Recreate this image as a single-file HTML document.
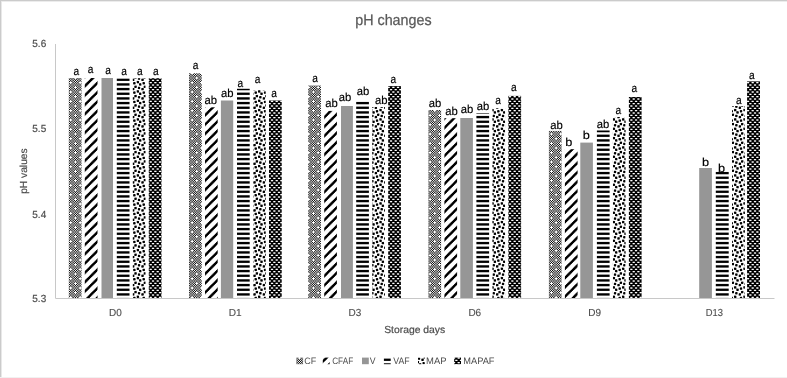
<!DOCTYPE html>
<html><head><meta charset="utf-8"><style>
html,body{margin:0;padding:0;background:#fff;}
body{width:787px;height:378px;overflow:hidden;}
svg{display:block;font-family:"Liberation Sans",sans-serif;will-change:transform;text-rendering:geometricPrecision;}
</style></head><body>
<svg width="787" height="378" viewBox="0 0 787 378">
<defs><pattern id="pCF" patternUnits="userSpaceOnUse" width="28" height="28"><g shape-rendering="crispEdges"><rect width="28" height="28" fill="#ffffff"/><path fill="#070707" d="M6 4h1v1h-1zM13 4h1v1h-1zM20 4h1v1h-1zM27 4h1v1h-1zM6 11h1v1h-1zM13 11h1v1h-1zM20 11h1v1h-1zM27 11h1v1h-1zM6 18h1v1h-1zM13 18h1v1h-1zM20 18h1v1h-1zM27 18h1v1h-1zM6 25h1v1h-1zM13 25h1v1h-1zM20 25h1v1h-1zM27 25h1v1h-1z"/><path fill="#0b0b0b" d="M19 10h1v1h-1zM5 24h1v1h-1z"/><path fill="#0d0d0d" d="M5 3h1v1h-1zM12 3h1v1h-1zM26 3h1v1h-1zM5 10h1v1h-1zM12 10h1v1h-1zM26 10h1v1h-1zM12 17h1v1h-1zM19 17h1v1h-1zM26 17h1v1h-1zM12 24h1v1h-1zM19 24h1v1h-1zM26 24h1v1h-1z"/><path fill="#0f0f0f" d="M19 5h1v1h-1zM5 19h1v1h-1z"/><path fill="#121212" d="M5 5h1v1h-1zM12 5h1v1h-1zM26 5h1v1h-1zM5 12h1v1h-1zM12 12h1v1h-1zM26 12h1v1h-1zM12 19h1v1h-1zM19 19h1v1h-1zM26 19h1v1h-1zM12 26h1v1h-1zM19 26h1v1h-1zM26 26h1v1h-1z"/><path fill="#171717" d="M4 4h1v1h-1zM11 4h1v1h-1zM25 4h1v1h-1zM4 11h1v1h-1zM11 11h1v1h-1zM18 11h1v1h-1zM25 11h1v1h-1zM11 18h1v1h-1zM18 18h1v1h-1zM25 18h1v1h-1zM4 25h1v1h-1zM11 25h1v1h-1zM18 25h1v1h-1zM25 25h1v1h-1z"/><path fill="#181818" d="M18 4h1v1h-1zM4 18h1v1h-1z"/><path fill="#282828" d="M21 3h1v1h-1zM7 17h1v1h-1z"/><path fill="#2c2c2c" d="M0 10h1v1h-1zM21 12h1v1h-1zM14 24h1v1h-1zM7 26h1v1h-1z"/><path fill="#2e2e2e" d="M7 3h1v1h-1zM14 3h1v1h-1zM7 10h1v1h-1zM14 10h1v1h-1zM21 10h1v1h-1zM0 17h1v1h-1zM21 17h1v1h-1zM0 24h1v1h-1zM7 24h1v1h-1zM21 24h1v1h-1z"/><path fill="#2f2f2f" d="M0 5h1v1h-1zM14 19h1v1h-1z"/><path fill="#303030" d="M27 2h1v1h-1zM13 16h1v1h-1z"/><path fill="#313131" d="M6 9h1v1h-1zM20 23h1v1h-1z"/><path fill="#323232" d="M7 5h1v1h-1zM14 5h1v1h-1zM21 5h1v1h-1zM7 12h1v1h-1zM14 12h1v1h-1zM0 19h1v1h-1zM7 19h1v1h-1zM21 19h1v1h-1zM0 26h1v1h-1zM21 26h1v1h-1z"/><path fill="#333333" d="M6 2h1v1h-1zM13 2h1v1h-1zM13 9h1v1h-1zM20 9h1v1h-1zM27 9h1v1h-1zM20 16h1v1h-1zM27 16h1v1h-1zM6 23h1v1h-1zM13 23h1v1h-1zM27 23h1v1h-1z"/><path fill="#373737" d="M20 2h1v1h-1zM6 16h1v1h-1z"/><path fill="#383838" d="M27 13h1v1h-1zM13 27h1v1h-1z"/><path fill="#393939" d="M11 2h1v1h-1zM25 16h1v1h-1z"/><path fill="#3a3a3a" d="M6 6h1v1h-1zM4 9h1v1h-1zM20 20h1v1h-1zM18 23h1v1h-1z"/><path fill="#3b3b3b" d="M20 6h1v1h-1zM27 6h1v1h-1zM6 13h1v1h-1zM13 13h1v1h-1zM6 20h1v1h-1zM13 20h1v1h-1zM20 27h1v1h-1zM27 27h1v1h-1z"/><path fill="#3c3c3c" d="M13 6h1v1h-1zM27 20h1v1h-1z"/><path fill="#3d3d3d" d="M4 2h1v1h-1zM25 2h1v1h-1zM17 3h1v1h-1zM11 9h1v1h-1zM18 9h1v1h-1zM11 16h1v1h-1zM18 16h1v1h-1zM3 17h1v1h-1zM4 23h1v1h-1zM25 23h1v1h-1z"/><path fill="#3e3e3e" d="M25 9h1v1h-1zM11 23h1v1h-1z"/><path fill="#404040" d="M17 12h1v1h-1zM11 13h1v1h-1zM20 13h1v1h-1zM3 26h1v1h-1zM6 27h1v1h-1zM25 27h1v1h-1z"/><path fill="#414141" d="M4 6h1v1h-1zM18 20h1v1h-1z"/><path fill="#444444" d="M11 6h1v1h-1zM18 6h1v1h-1zM4 13h1v1h-1zM25 13h1v1h-1zM4 20h1v1h-1zM25 20h1v1h-1zM11 27h1v1h-1zM18 27h1v1h-1z"/><path fill="#454545" d="M25 6h1v1h-1zM10 10h1v1h-1zM11 20h1v1h-1zM24 24h1v1h-1z"/><path fill="#464646" d="M3 3h1v1h-1zM24 3h1v1h-1zM3 10h1v1h-1zM17 10h1v1h-1zM24 10h1v1h-1zM10 17h1v1h-1zM17 17h1v1h-1zM3 24h1v1h-1zM10 24h1v1h-1zM17 24h1v1h-1z"/><path fill="#474747" d="M18 2h1v1h-1zM10 5h1v1h-1zM4 16h1v1h-1zM24 19h1v1h-1z"/><path fill="#494949" d="M3 5h1v1h-1zM17 5h1v1h-1zM24 5h1v1h-1zM3 12h1v1h-1zM24 12h1v1h-1zM3 19h1v1h-1zM10 19h1v1h-1zM17 19h1v1h-1zM10 26h1v1h-1zM17 26h1v1h-1z"/><path fill="#4f4f4f" d="M18 13h1v1h-1zM4 27h1v1h-1z"/><path fill="#535353" d="M19 1h1v1h-1zM5 15h1v1h-1z"/><path fill="#545454" d="M8 4h1v1h-1zM1 11h1v1h-1zM22 18h1v1h-1zM15 25h1v1h-1z"/><path fill="#555555" d="M1 4h1v1h-1zM15 4h1v1h-1zM22 4h1v1h-1zM8 11h1v1h-1zM15 11h1v1h-1zM22 11h1v1h-1zM1 18h1v1h-1zM8 18h1v1h-1zM15 18h1v1h-1zM1 25h1v1h-1zM8 25h1v1h-1zM22 25h1v1h-1z"/><path fill="#5c5c5c" d="M5 0h1v1h-1zM19 14h1v1h-1z"/><path fill="#5d5d5d" d="M0 1h1v1h-1zM15 9h1v1h-1zM14 15h1v1h-1zM1 23h1v1h-1z"/><path fill="#5f5f5f" d="M5 1h1v1h-1zM12 1h1v1h-1zM26 1h1v1h-1zM8 2h1v1h-1zM12 8h1v1h-1zM19 8h1v1h-1zM26 8h1v1h-1zM12 15h1v1h-1zM19 15h1v1h-1zM26 15h1v1h-1zM22 16h1v1h-1zM5 22h1v1h-1zM12 22h1v1h-1zM26 22h1v1h-1z"/><path fill="#606060" d="M15 6h1v1h-1zM1 20h1v1h-1z"/><path fill="#626262" d="M8 13h1v1h-1zM22 27h1v1h-1z"/><path fill="#646464" d="M14 0h1v1h-1zM15 2h1v1h-1zM22 2h1v1h-1zM1 9h1v1h-1zM8 9h1v1h-1zM0 14h1v1h-1zM1 16h1v1h-1zM8 16h1v1h-1zM15 23h1v1h-1zM22 23h1v1h-1z"/><path fill="#656565" d="M10 1h1v1h-1zM7 8h1v1h-1zM22 9h1v1h-1zM24 15h1v1h-1zM21 22h1v1h-1zM8 23h1v1h-1z"/><path fill="#676767" d="M1 6h1v1h-1zM8 6h1v1h-1zM15 13h1v1h-1zM22 13h1v1h-1zM15 20h1v1h-1zM22 20h1v1h-1zM1 27h1v1h-1zM8 27h1v1h-1z"/><path fill="#686868" d="M22 6h1v1h-1zM8 20h1v1h-1z"/><path fill="#696969" d="M7 1h1v1h-1zM14 1h1v1h-1zM21 1h1v1h-1zM0 8h1v1h-1zM3 8h1v1h-1zM21 8h1v1h-1zM0 15h1v1h-1zM7 15h1v1h-1zM21 15h1v1h-1zM7 22h1v1h-1zM14 22h1v1h-1zM17 22h1v1h-1z"/><path fill="#6a6a6a" d="M12 0h1v1h-1zM19 0h1v1h-1zM24 0h1v1h-1zM26 0h1v1h-1zM12 7h1v1h-1zM19 7h1v1h-1zM26 7h1v1h-1zM5 14h1v1h-1zM10 14h1v1h-1zM12 14h1v1h-1zM26 14h1v1h-1zM5 21h1v1h-1zM12 21h1v1h-1zM26 21h1v1h-1z"/><path fill="#6d6d6d" d="M7 7h1v1h-1zM21 21h1v1h-1z"/><path fill="#6f6f6f" d="M3 1h1v1h-1zM24 1h1v1h-1zM23 6h1v1h-1zM3 7h1v1h-1zM10 8h1v1h-1zM17 8h1v1h-1zM23 9h1v1h-1zM10 15h1v1h-1zM17 15h1v1h-1zM9 20h1v1h-1zM17 21h1v1h-1zM3 22h1v1h-1zM24 22h1v1h-1zM9 23h1v1h-1z"/><path fill="#707070" d="M0 0h1v1h-1zM21 0h1v1h-1zM17 1h1v1h-1zM0 7h1v1h-1zM21 7h1v1h-1zM7 14h1v1h-1zM14 14h1v1h-1zM3 15h1v1h-1zM7 21h1v1h-1zM14 21h1v1h-1z"/><path fill="#717171" d="M7 0h1v1h-1zM21 14h1v1h-1z"/><path fill="#747474" d="M2 2h1v1h-1zM2 4h1v1h-1zM9 11h1v1h-1zM2 13h1v1h-1zM16 16h1v1h-1zM16 18h1v1h-1zM23 25h1v1h-1zM16 27h1v1h-1z"/><path fill="#757575" d="M3 0h1v1h-1zM10 0h1v1h-1zM17 0h1v1h-1zM16 4h1v1h-1zM23 4h1v1h-1zM10 7h1v1h-1zM17 7h1v1h-1zM2 11h1v1h-1zM16 11h1v1h-1zM23 11h1v1h-1zM3 14h1v1h-1zM17 14h1v1h-1zM24 14h1v1h-1zM2 18h1v1h-1zM9 18h1v1h-1zM3 21h1v1h-1zM24 21h1v1h-1zM2 25h1v1h-1zM9 25h1v1h-1zM16 25h1v1h-1z"/><path fill="#767676" d="M9 4h1v1h-1zM23 18h1v1h-1z"/><path fill="#777777" d="M16 7h1v1h-1zM16 8h1v1h-1zM2 21h1v1h-1zM2 22h1v1h-1z"/><path fill="#797979" d="M16 2h1v1h-1zM23 2h1v1h-1zM2 3h1v1h-1zM2 6h1v1h-1zM9 6h1v1h-1zM2 9h1v1h-1zM9 9h1v1h-1zM2 12h1v1h-1zM16 13h1v1h-1zM23 13h1v1h-1zM2 16h1v1h-1zM9 16h1v1h-1zM16 17h1v1h-1zM16 20h1v1h-1zM23 20h1v1h-1zM16 23h1v1h-1zM23 23h1v1h-1zM16 26h1v1h-1zM2 27h1v1h-1zM9 27h1v1h-1z"/><path fill="#7a7a7a" d="M23 0h1v1h-1zM16 9h1v1h-1zM9 14h1v1h-1zM2 23h1v1h-1z"/><path fill="#7b7b7b" d="M16 6h1v1h-1zM22 7h1v1h-1zM2 20h1v1h-1zM8 21h1v1h-1z"/><path fill="#7c7c7c" d="M9 1h1v1h-1zM23 15h1v1h-1z"/><path fill="#7e7e7e" d="M1 2h1v1h-1zM22 8h1v1h-1zM15 16h1v1h-1zM8 22h1v1h-1z"/><path fill="#818181" d="M2 0h1v1h-1zM9 0h1v1h-1zM15 0h1v1h-1zM2 7h1v1h-1zM9 7h1v1h-1zM1 14h1v1h-1zM16 14h1v1h-1zM23 14h1v1h-1zM16 21h1v1h-1zM23 21h1v1h-1z"/><path fill="#828282" d="M16 0h1v1h-1zM16 1h1v1h-1zM23 1h1v1h-1zM2 8h1v1h-1zM9 8h1v1h-1zM2 14h1v1h-1zM2 15h1v1h-1zM9 15h1v1h-1zM16 22h1v1h-1zM23 22h1v1h-1z"/><path fill="#838383" d="M2 1h1v1h-1zM16 15h1v1h-1z"/><path fill="#858585" d="M1 1h1v1h-1zM1 13h1v1h-1zM15 15h1v1h-1zM15 27h1v1h-1z"/><path fill="#878787" d="M1 0h1v1h-1zM8 0h1v1h-1zM1 7h1v1h-1zM8 7h1v1h-1zM25 7h1v1h-1zM15 14h1v1h-1zM22 14h1v1h-1zM11 21h1v1h-1zM15 21h1v1h-1zM22 21h1v1h-1z"/><path fill="#888888" d="M22 0h1v1h-1zM9 5h1v1h-1zM9 10h1v1h-1zM8 14h1v1h-1zM23 19h1v1h-1zM23 24h1v1h-1z"/><path fill="#898989" d="M16 3h1v1h-1zM23 3h1v1h-1zM2 5h1v1h-1zM16 5h1v1h-1zM23 5h1v1h-1zM16 10h1v1h-1zM23 10h1v1h-1zM16 12h1v1h-1zM23 12h1v1h-1zM2 17h1v1h-1zM9 17h1v1h-1zM2 19h1v1h-1zM9 19h1v1h-1zM16 19h1v1h-1zM2 24h1v1h-1zM9 24h1v1h-1zM2 26h1v1h-1zM9 26h1v1h-1z"/><path fill="#8a8a8a" d="M15 1h1v1h-1zM22 1h1v1h-1zM1 8h1v1h-1zM8 8h1v1h-1zM2 10h1v1h-1zM1 15h1v1h-1zM8 15h1v1h-1zM15 22h1v1h-1zM22 22h1v1h-1zM16 24h1v1h-1z"/><path fill="#8b8b8b" d="M8 1h1v1h-1zM22 15h1v1h-1z"/><path fill="#8d8d8d" d="M13 7h1v1h-1zM27 21h1v1h-1z"/><path fill="#8f8f8f" d="M4 0h1v1h-1zM25 8h1v1h-1zM18 14h1v1h-1zM11 22h1v1h-1z"/><path fill="#919191" d="M11 0h1v1h-1zM18 0h1v1h-1zM11 7h1v1h-1zM18 7h1v1h-1zM4 14h1v1h-1zM25 14h1v1h-1zM4 21h1v1h-1zM25 21h1v1h-1z"/><path fill="#929292" d="M25 0h1v1h-1zM11 14h1v1h-1z"/><path fill="#939393" d="M6 0h1v1h-1zM8 12h1v1h-1zM20 14h1v1h-1zM22 26h1v1h-1z"/><path fill="#949494" d="M20 0h1v1h-1zM27 0h1v1h-1zM20 7h1v1h-1zM27 7h1v1h-1zM6 14h1v1h-1zM13 14h1v1h-1zM6 21h1v1h-1zM13 21h1v1h-1z"/><path fill="#959595" d="M13 0h1v1h-1zM8 3h1v1h-1zM24 6h1v1h-1zM27 14h1v1h-1zM22 17h1v1h-1zM10 20h1v1h-1z"/><path fill="#979797" d="M13 8h1v1h-1zM27 22h1v1h-1z"/><path fill="#989898" d="M18 1h1v1h-1zM4 15h1v1h-1z"/><path fill="#999999" d="M24 9h1v1h-1zM10 23h1v1h-1z"/><path fill="#9a9a9a" d="M4 1h1v1h-1zM25 1h1v1h-1zM9 2h1v1h-1zM11 8h1v1h-1zM18 8h1v1h-1zM11 15h1v1h-1zM18 15h1v1h-1zM23 16h1v1h-1zM4 22h1v1h-1zM25 22h1v1h-1z"/><path fill="#9b9b9b" d="M11 1h1v1h-1zM25 15h1v1h-1z"/><path fill="#9d9d9d" d="M20 1h1v1h-1zM6 15h1v1h-1z"/><path fill="#9e9e9e" d="M6 1h1v1h-1zM13 1h1v1h-1zM20 8h1v1h-1zM27 8h1v1h-1zM20 15h1v1h-1zM27 15h1v1h-1zM6 22h1v1h-1zM13 22h1v1h-1z"/><path fill="#9f9f9f" d="M27 1h1v1h-1zM6 7h1v1h-1zM13 15h1v1h-1zM20 21h1v1h-1z"/><path fill="#a0a0a0" d="M9 13h1v1h-1zM23 27h1v1h-1z"/><path fill="#a1a1a1" d="M17 13h1v1h-1zM3 27h1v1h-1z"/><path fill="#a2a2a2" d="M14 6h1v1h-1zM0 20h1v1h-1z"/><path fill="#a3a3a3" d="M10 6h1v1h-1zM17 6h1v1h-1zM3 13h1v1h-1zM24 13h1v1h-1zM3 20h1v1h-1zM24 20h1v1h-1zM10 27h1v1h-1zM17 27h1v1h-1z"/><path fill="#a4a4a4" d="M1 5h1v1h-1zM3 6h1v1h-1zM15 19h1v1h-1zM17 20h1v1h-1z"/><path fill="#a5a5a5" d="M17 2h1v1h-1zM8 5h1v1h-1zM15 5h1v1h-1zM22 5h1v1h-1zM15 12h1v1h-1zM22 12h1v1h-1zM3 16h1v1h-1zM1 19h1v1h-1zM8 19h1v1h-1zM22 19h1v1h-1zM1 26h1v1h-1zM8 26h1v1h-1z"/><path fill="#a6a6a6" d="M1 10h1v1h-1zM15 24h1v1h-1z"/><path fill="#a7a7a7" d="M15 3h1v1h-1zM22 3h1v1h-1zM8 10h1v1h-1zM15 10h1v1h-1zM22 10h1v1h-1zM1 17h1v1h-1zM8 17h1v1h-1zM1 24h1v1h-1zM8 24h1v1h-1zM22 24h1v1h-1z"/><path fill="#a8a8a8" d="M3 2h1v1h-1zM24 2h1v1h-1zM3 9h1v1h-1zM10 9h1v1h-1zM17 9h1v1h-1zM10 16h1v1h-1zM17 16h1v1h-1zM3 23h1v1h-1zM17 23h1v1h-1zM24 23h1v1h-1z"/><path fill="#a9a9a9" d="M14 9h1v1h-1zM0 23h1v1h-1z"/><path fill="#aaaaaa" d="M4 7h1v1h-1zM6 8h1v1h-1zM18 21h1v1h-1zM20 22h1v1h-1z"/><path fill="#b1b1b1" d="M21 13h1v1h-1zM7 27h1v1h-1z"/><path fill="#b2b2b2" d="M0 6h1v1h-1zM21 6h1v1h-1zM7 13h1v1h-1zM14 13h1v1h-1zM7 20h1v1h-1zM14 20h1v1h-1zM0 27h1v1h-1zM21 27h1v1h-1z"/><path fill="#b3b3b3" d="M7 6h1v1h-1zM21 20h1v1h-1z"/><path fill="#b4b4b4" d="M5 6h1v1h-1zM4 8h1v1h-1zM19 20h1v1h-1zM18 22h1v1h-1z"/><path fill="#b7b7b7" d="M21 2h1v1h-1zM7 16h1v1h-1z"/><path fill="#b9b9b9" d="M7 2h1v1h-1zM14 2h1v1h-1zM0 9h1v1h-1zM7 9h1v1h-1zM21 9h1v1h-1zM0 16h1v1h-1zM21 16h1v1h-1zM7 23h1v1h-1zM14 23h1v1h-1zM21 23h1v1h-1z"/><path fill="#bdbdbd" d="M10 11h1v1h-1zM24 25h1v1h-1z"/><path fill="#bebebe" d="M3 4h1v1h-1zM17 4h1v1h-1zM24 4h1v1h-1zM5 9h1v1h-1zM3 11h1v1h-1zM17 11h1v1h-1zM24 11h1v1h-1zM3 18h1v1h-1zM10 18h1v1h-1zM17 18h1v1h-1zM19 23h1v1h-1zM3 25h1v1h-1zM10 25h1v1h-1zM17 25h1v1h-1z"/><path fill="#c0c0c0" d="M10 4h1v1h-1zM24 18h1v1h-1z"/><path fill="#c7c7c7" d="M12 6h1v1h-1zM19 6h1v1h-1zM26 6h1v1h-1zM5 13h1v1h-1zM12 13h1v1h-1zM26 13h1v1h-1zM5 20h1v1h-1zM12 20h1v1h-1zM26 20h1v1h-1zM12 27h1v1h-1zM19 27h1v1h-1zM26 27h1v1h-1z"/><path fill="#c9c9c9" d="M15 7h1v1h-1zM1 21h1v1h-1z"/><path fill="#cbcbcb" d="M11 12h1v1h-1zM25 26h1v1h-1z"/><path fill="#cfcfcf" d="M11 3h1v1h-1zM25 17h1v1h-1z"/><path fill="#d0d0d0" d="M5 2h1v1h-1zM12 2h1v1h-1zM26 2h1v1h-1zM15 8h1v1h-1zM12 9h1v1h-1zM19 9h1v1h-1zM26 9h1v1h-1zM12 16h1v1h-1zM19 16h1v1h-1zM26 16h1v1h-1zM1 22h1v1h-1zM5 23h1v1h-1zM12 23h1v1h-1zM26 23h1v1h-1z"/><path fill="#d7d7d7" d="M23 7h1v1h-1zM9 21h1v1h-1z"/><path fill="#d8d8d8" d="M0 11h1v1h-1zM14 25h1v1h-1z"/><path fill="#d9d9d9" d="M7 4h1v1h-1zM14 4h1v1h-1zM21 4h1v1h-1zM7 11h1v1h-1zM14 11h1v1h-1zM21 11h1v1h-1zM0 18h1v1h-1zM7 18h1v1h-1zM21 18h1v1h-1zM0 25h1v1h-1zM7 25h1v1h-1zM21 25h1v1h-1z"/><path fill="#dadada" d="M10 2h1v1h-1zM4 5h1v1h-1zM11 5h1v1h-1zM18 5h1v1h-1zM25 5h1v1h-1zM4 12h1v1h-1zM25 12h1v1h-1zM24 16h1v1h-1zM4 19h1v1h-1zM11 19h1v1h-1zM18 19h1v1h-1zM25 19h1v1h-1zM11 26h1v1h-1zM18 26h1v1h-1z"/><path fill="#dbdbdb" d="M0 4h1v1h-1zM14 18h1v1h-1z"/><path fill="#dddddd" d="M23 8h1v1h-1zM10 13h1v1h-1zM9 22h1v1h-1zM24 27h1v1h-1z"/><path fill="#dedede" d="M4 3h1v1h-1zM25 3h1v1h-1zM4 10h1v1h-1zM18 10h1v1h-1zM25 10h1v1h-1zM27 12h1v1h-1zM11 17h1v1h-1zM18 17h1v1h-1zM4 24h1v1h-1zM11 24h1v1h-1zM18 24h1v1h-1zM13 26h1v1h-1z"/><path fill="#dfdfdf" d="M11 10h1v1h-1zM25 24h1v1h-1z"/><path fill="#e3e3e3" d="M27 3h1v1h-1zM13 17h1v1h-1z"/><path fill="#e8e8e8" d="M6 5h1v1h-1zM13 5h1v1h-1zM20 5h1v1h-1zM27 5h1v1h-1zM6 12h1v1h-1zM13 12h1v1h-1zM6 19h1v1h-1zM13 19h1v1h-1zM20 19h1v1h-1zM27 19h1v1h-1zM20 26h1v1h-1zM27 26h1v1h-1z"/><path fill="#ededed" d="M6 3h1v1h-1zM13 3h1v1h-1zM6 10h1v1h-1zM13 10h1v1h-1zM20 10h1v1h-1zM27 10h1v1h-1zM20 17h1v1h-1zM27 17h1v1h-1zM6 24h1v1h-1zM13 24h1v1h-1zM20 24h1v1h-1zM27 24h1v1h-1z"/><path fill="#f1f1f1" d="M0 2h1v1h-1zM14 16h1v1h-1z"/><path fill="#f3f3f3" d="M0 13h1v1h-1zM14 27h1v1h-1z"/><path fill="#f5f5f5" d="M24 7h1v1h-1zM10 21h1v1h-1z"/><path fill="#f7f7f7" d="M24 8h1v1h-1zM10 22h1v1h-1z"/><path fill="#f8f8f8" d="M20 12h1v1h-1zM6 26h1v1h-1z"/><path fill="#fcfcfc" d="M19 11h1v1h-1zM5 25h1v1h-1z"/><path fill="#fdfdfd" d="M5 4h1v1h-1zM12 4h1v1h-1zM26 4h1v1h-1zM5 11h1v1h-1zM12 11h1v1h-1zM26 11h1v1h-1zM12 18h1v1h-1zM19 18h1v1h-1zM26 18h1v1h-1zM12 25h1v1h-1zM19 25h1v1h-1zM26 25h1v1h-1z"/><path fill="#fefefe" d="M20 3h1v1h-1zM6 17h1v1h-1z"/></g></pattern><pattern id="pCFAF" patternUnits="userSpaceOnUse" width="28" height="28"><g shape-rendering="crispEdges"><rect width="28" height="28" fill="#ffffff"/><path fill="#000000" d="M2 0h1v1h-1zM11 0h2v1h-2zM20 0h2v1h-2zM1 1h1v1h-1zM10 1h1v1h-1zM19 1h2v1h-2zM0 2h1v1h-1zM9 2h1v1h-1zM18 2h2v1h-2zM27 2h1v1h-1zM8 3h2v1h-2zM17 3h2v1h-2zM26 3h2v1h-2zM7 4h2v1h-2zM16 4h2v1h-2zM25 4h3v1h-3zM6 5h2v1h-2zM15 5h2v1h-2zM25 5h2v1h-2zM5 6h2v1h-2zM15 6h1v1h-1zM24 6h1v1h-1zM4 7h2v1h-2zM13 7h2v1h-2zM23 7h1v1h-1zM3 8h1v1h-1zM12 8h2v1h-2zM22 8h1v1h-1zM2 9h1v1h-1zM11 9h2v1h-2zM20 9h2v1h-2zM1 10h2v1h-2zM10 10h2v1h-2zM19 10h2v1h-2zM0 11h2v1h-2zM9 11h2v1h-2zM18 11h3v1h-3zM0 12h1v1h-1zM8 12h2v1h-2zM18 12h2v1h-2zM27 12h1v1h-1zM8 13h1v1h-1zM17 13h1v1h-1zM26 13h2v1h-2zM6 14h2v1h-2zM16 14h1v1h-1zM25 14h2v1h-2zM5 15h2v1h-2zM15 15h1v1h-1zM24 15h1v1h-1zM4 16h2v1h-2zM13 16h2v1h-2zM23 16h1v1h-1zM3 17h2v1h-2zM12 17h2v1h-2zM22 17h2v1h-2zM2 18h2v1h-2zM11 18h3v1h-3zM21 18h2v1h-2zM1 19h2v1h-2zM11 19h2v1h-2zM20 19h2v1h-2zM1 20h1v1h-1zM10 20h1v1h-1zM19 20h2v1h-2zM0 21h1v1h-1zM9 21h1v1h-1zM18 21h2v1h-2zM27 21h1v1h-1zM8 22h1v1h-1zM17 22h1v1h-1zM26 22h2v1h-2zM6 23h2v1h-2zM16 23h1v1h-1zM25 23h2v1h-2zM5 24h2v1h-2zM15 24h2v1h-2zM24 24h2v1h-2zM4 25h3v1h-3zM14 25h2v1h-2zM23 25h2v1h-2zM4 26h2v1h-2zM13 26h2v1h-2zM22 26h2v1h-2zM3 27h1v1h-1zM12 27h2v1h-2zM22 27h1v1h-1z"/><path fill="#010101" d="M11 1h1v1h-1zM0 3h1v1h-1zM4 8h1v1h-1zM21 10h1v1h-1zM25 15h1v1h-1zM14 17h1v1h-1zM18 22h1v1h-1zM7 24h1v1h-1z"/><path fill="#020202" d="M24 5h1v1h-1zM17 12h1v1h-1zM10 19h1v1h-1zM3 26h1v1h-1z"/><path fill="#030303" d="M14 6h1v1h-1zM7 13h1v1h-1zM0 20h1v1h-1zM21 27h1v1h-1z"/><path fill="#050505" d="M10 2h1v1h-1zM3 9h1v1h-1zM24 16h1v1h-1zM17 23h1v1h-1z"/><path fill="#080808" d="M25 6h1v1h-1zM18 13h1v1h-1zM11 20h1v1h-1zM4 27h1v1h-1z"/><path fill="#0d0d0d" d="M0 1h1v1h-1zM21 8h1v1h-1zM14 15h1v1h-1zM7 22h1v1h-1z"/><path fill="#121212" d="M6 4h1v1h-1zM23 6h1v1h-1zM27 11h1v1h-1zM16 13h1v1h-1zM20 18h1v1h-1zM9 20h1v1h-1zM13 25h1v1h-1zM2 27h1v1h-1z"/><path fill="#131313" d="M1 2h1v1h-1zM22 9h1v1h-1zM15 16h1v1h-1zM8 23h1v1h-1z"/><path fill="#171717" d="M1 0h1v1h-1zM5 5h1v1h-1zM22 7h1v1h-1zM26 12h1v1h-1zM15 14h1v1h-1zM19 19h1v1h-1zM8 21h1v1h-1zM12 26h1v1h-1z"/><path fill="#191919" d="M3 0h1v1h-1zM24 7h1v1h-1zM17 14h1v1h-1zM10 21h1v1h-1z"/><path fill="#1d1d1d" d="M19 3h1v1h-1zM12 10h1v1h-1zM5 17h1v1h-1zM26 24h1v1h-1z"/><path fill="#1e1e1e" d="M2 1h1v1h-1zM23 8h1v1h-1zM16 15h1v1h-1zM9 22h1v1h-1z"/><path fill="#212121" d="M18 4h1v1h-1zM11 11h1v1h-1zM4 18h1v1h-1zM25 25h1v1h-1z"/><path fill="#222222" d="M7 3h1v1h-1zM0 10h1v1h-1zM21 17h1v1h-1zM14 24h1v1h-1z"/><path fill="#2b2b2b" d="M4 6h1v1h-1zM25 13h1v1h-1zM18 20h1v1h-1zM11 27h1v1h-1z"/><path fill="#2d2d2d" d="M20 2h1v1h-1zM13 9h1v1h-1zM6 16h1v1h-1zM27 23h1v1h-1z"/><path fill="#363636" d="M17 5h1v1h-1zM10 12h1v1h-1zM3 19h1v1h-1zM24 26h1v1h-1z"/><path fill="#373737" d="M8 2h1v1h-1zM1 9h1v1h-1zM22 16h1v1h-1zM15 23h1v1h-1z"/><path fill="#3e3e3e" d="M10 0h1v1h-1zM3 7h1v1h-1zM24 14h1v1h-1zM17 21h1v1h-1z"/><path fill="#424242" d="M21 1h1v1h-1zM14 8h1v1h-1zM7 15h1v1h-1zM0 22h1v1h-1z"/><path fill="#434343" d="M9 1h1v1h-1zM2 8h1v1h-1zM23 15h1v1h-1zM16 22h1v1h-1z"/><path fill="#494949" d="M16 6h1v1h-1zM9 13h1v1h-1zM2 20h1v1h-1zM23 27h1v1h-1z"/><path fill="#4e4e4e" d="M22 0h1v1h-1zM14 5h1v1h-1zM15 7h1v1h-1zM7 12h1v1h-1zM8 14h1v1h-1zM0 19h1v1h-1zM1 21h1v1h-1zM21 26h1v1h-1z"/><path fill="#525252" d="M13 6h1v1h-1zM6 13h1v1h-1zM27 20h1v1h-1zM20 27h1v1h-1z"/><path fill="#5c5c5c" d="M11 2h1v1h-1zM4 9h1v1h-1zM25 16h1v1h-1zM18 23h1v1h-1z"/><path fill="#5e5e5e" d="M15 4h1v1h-1zM8 11h1v1h-1zM1 18h1v1h-1zM22 25h1v1h-1z"/><path fill="#606060" d="M10 3h1v1h-1zM3 10h1v1h-1zM24 17h1v1h-1zM17 24h1v1h-1z"/><path fill="#676767" d="M19 0h1v1h-1zM12 7h1v1h-1zM5 14h1v1h-1zM26 21h1v1h-1z"/><path fill="#6b6b6b" d="M12 1h1v1h-1zM5 8h1v1h-1zM26 15h1v1h-1zM19 22h1v1h-1z"/><path fill="#747474" d="M9 4h1v1h-1zM2 11h1v1h-1zM23 18h1v1h-1zM16 25h1v1h-1z"/><path fill="#757575" d="M16 3h1v1h-1zM9 10h1v1h-1zM2 17h1v1h-1zM23 24h1v1h-1z"/><path fill="#7c7c7c" d="M18 1h1v1h-1zM11 8h1v1h-1zM4 15h1v1h-1zM25 22h1v1h-1z"/><path fill="#818181" d="M17 2h1v1h-1zM10 9h1v1h-1zM3 16h1v1h-1zM24 23h1v1h-1z"/><path fill="#828282" d="M13 0h1v1h-1zM6 7h1v1h-1zM27 14h1v1h-1zM20 21h1v1h-1z"/><path fill="#898989" d="M8 5h1v1h-1zM1 12h1v1h-1zM22 19h1v1h-1zM15 26h1v1h-1z"/><path fill="#8f8f8f" d="M7 6h1v1h-1zM0 13h1v1h-1zM21 20h1v1h-1zM14 27h1v1h-1z"/><path fill="#939393" d="M22 6h1v1h-1zM15 13h1v1h-1zM8 20h1v1h-1zM1 27h1v1h-1z"/><path fill="#969696" d="M0 0h1v1h-1zM21 7h1v1h-1zM14 14h1v1h-1zM7 21h1v1h-1z"/><path fill="#a0a0a0" d="M3 1h1v1h-1zM23 5h1v1h-1zM24 8h1v1h-1zM16 12h1v1h-1zM17 15h1v1h-1zM9 19h1v1h-1zM10 22h1v1h-1zM2 26h1v1h-1z"/><path fill="#a3a3a3" d="M2 2h1v1h-1zM23 9h1v1h-1zM16 16h1v1h-1zM9 23h1v1h-1z"/><path fill="#a9a9a9" d="M27 1h1v1h-1zM20 8h1v1h-1zM13 15h1v1h-1zM6 22h1v1h-1z"/><path fill="#adadad" d="M4 0h1v1h-1zM25 7h1v1h-1zM18 14h1v1h-1zM11 21h1v1h-1z"/><path fill="#b5b5b5" d="M1 3h1v1h-1zM22 10h1v1h-1zM15 17h1v1h-1zM8 24h1v1h-1z"/><path fill="#b7b7b7" d="M24 4h1v1h-1zM17 11h1v1h-1zM10 18h1v1h-1zM3 25h1v1h-1z"/><path fill="#bfbfbf" d="M26 2h1v1h-1zM19 9h1v1h-1zM12 16h1v1h-1zM5 23h1v1h-1z"/><path fill="#c3c3c3" d="M26 6h1v1h-1zM19 13h1v1h-1zM12 20h1v1h-1zM5 27h1v1h-1z"/><path fill="#c5c5c5" d="M25 3h1v1h-1zM18 10h1v1h-1zM11 17h1v1h-1zM4 24h1v1h-1z"/><path fill="#cbcbcb" d="M0 4h1v1h-1zM21 11h1v1h-1zM14 18h1v1h-1zM7 25h1v1h-1z"/><path fill="#cdcdcd" d="M9 0h1v1h-1zM2 7h1v1h-1zM23 14h1v1h-1zM16 21h1v1h-1z"/><path fill="#d0d0d0" d="M8 1h1v1h-1zM1 8h1v1h-1zM22 15h1v1h-1zM15 22h1v1h-1z"/><path fill="#d2d2d2" d="M27 5h1v1h-1zM20 12h1v1h-1zM13 19h1v1h-1zM6 26h1v1h-1z"/><path fill="#d6d6d6" d="M23 0h1v1h-1zM16 7h1v1h-1zM9 14h1v1h-1zM2 21h1v1h-1z"/><path fill="#d9d9d9" d="M3 6h1v1h-1zM24 13h1v1h-1zM17 20h1v1h-1zM10 27h1v1h-1z"/><path fill="#dadada" d="M22 1h1v1h-1zM15 8h1v1h-1zM8 15h1v1h-1zM1 22h1v1h-1z"/><path fill="#e1e1e1" d="M7 2h1v1h-1zM0 9h1v1h-1zM21 16h1v1h-1zM14 23h1v1h-1z"/><path fill="#e2e2e2" d="M17 6h1v1h-1zM10 13h1v1h-1zM3 20h1v1h-1zM24 27h1v1h-1z"/><path fill="#eaeaea" d="M21 2h1v1h-1zM14 9h1v1h-1zM7 16h1v1h-1zM0 23h1v1h-1z"/><path fill="#ededed" d="M4 5h1v1h-1zM25 12h1v1h-1zM18 19h1v1h-1zM11 26h1v1h-1z"/><path fill="#f2f2f2" d="M17 1h1v1h-1zM10 8h1v1h-1zM3 15h1v1h-1zM24 22h1v1h-1z"/><path fill="#f4f4f4" d="M6 3h1v1h-1zM27 10h1v1h-1zM20 17h1v1h-1zM13 24h1v1h-1z"/><path fill="#f5f5f5" d="M16 2h1v1h-1zM9 9h1v1h-1zM2 16h1v1h-1zM23 23h1v1h-1z"/><path fill="#f6f6f6" d="M18 5h1v1h-1zM11 12h1v1h-1zM4 19h1v1h-1zM25 26h1v1h-1z"/><path fill="#f7f7f7" d="M8 6h1v1h-1zM1 13h1v1h-1zM22 20h1v1h-1zM15 27h1v1h-1z"/><path fill="#f9f9f9" d="M14 0h1v1h-1zM7 7h1v1h-1zM0 14h1v1h-1zM21 21h1v1h-1z"/><path fill="#fbfbfb" d="M5 4h1v1h-1zM26 11h1v1h-1zM19 18h1v1h-1zM12 25h1v1h-1z"/><path fill="#fcfcfc" d="M20 3h1v1h-1zM13 10h1v1h-1zM6 17h1v1h-1zM27 24h1v1h-1z"/><path fill="#fdfdfd" d="M7 0h1v1h-1zM16 0h1v1h-1zM18 0h1v1h-1zM15 1h1v1h-1zM24 1h1v1h-1zM23 2h1v1h-1zM1 6h1v1h-1zM0 7h1v1h-1zM9 7h1v1h-1zM11 7h1v1h-1zM8 8h1v1h-1zM17 8h1v1h-1zM16 9h1v1h-1zM22 13h1v1h-1zM2 14h1v1h-1zM4 14h1v1h-1zM21 14h1v1h-1zM1 15h1v1h-1zM10 15h1v1h-1zM9 16h1v1h-1zM15 20h1v1h-1zM14 21h1v1h-1zM23 21h1v1h-1zM25 21h1v1h-1zM3 22h1v1h-1zM22 22h1v1h-1zM2 23h1v1h-1zM8 27h1v1h-1z"/><path fill="#fefefe" d="M25 0h1v1h-1zM6 1h1v1h-1zM4 2h1v1h-1zM14 2h1v1h-1zM3 3h1v1h-1zM22 3h1v1h-1zM2 5h1v1h-1zM21 5h1v1h-1zM10 6h1v1h-1zM20 6h1v1h-1zM18 7h1v1h-1zM27 8h1v1h-1zM7 9h1v1h-1zM25 9h1v1h-1zM15 10h1v1h-1zM24 10h1v1h-1zM14 12h1v1h-1zM23 12h1v1h-1zM3 13h1v1h-1zM13 13h1v1h-1zM11 14h1v1h-1zM20 15h1v1h-1zM0 16h1v1h-1zM18 16h1v1h-1zM8 17h1v1h-1zM17 17h1v1h-1zM7 19h1v1h-1zM16 19h1v1h-1zM6 20h1v1h-1zM24 20h1v1h-1zM4 21h1v1h-1zM13 22h1v1h-1zM11 23h1v1h-1zM21 23h1v1h-1zM1 24h1v1h-1zM10 24h1v1h-1zM0 26h1v1h-1zM9 26h1v1h-1zM17 27h1v1h-1zM27 27h1v1h-1z"/></g></pattern><pattern id="pVAF" patternUnits="userSpaceOnUse" width="28" height="28"><g shape-rendering="crispEdges"><rect width="28" height="28" fill="#000000"/><path fill="#020202" d="M0 4h28v1h-28zM0 18h28v1h-28z"/><path fill="#161616" d="M0 10h28v1h-28zM0 24h28v1h-28z"/><path fill="#424242" d="M0 13h28v1h-28zM0 27h28v1h-28z"/><path fill="#646464" d="M0 1h28v1h-28zM0 15h28v1h-28z"/><path fill="#9b9b9b" d="M0 8h28v1h-28zM0 22h28v1h-28z"/><path fill="#bdbdbd" d="M0 6h28v1h-28zM0 20h28v1h-28z"/><path fill="#e9e9e9" d="M0 3h28v1h-28zM0 17h28v1h-28z"/><path fill="#fdfdfd" d="M0 11h28v1h-28zM0 25h28v1h-28z"/><path fill="#ffffff" d="M0 2h28v1h-28zM0 7h28v1h-28zM0 12h28v1h-28zM0 16h28v1h-28zM0 21h28v1h-28zM0 26h28v1h-28z"/></g></pattern><pattern id="pMAP" patternUnits="userSpaceOnUse" width="28" height="28"><g shape-rendering="crispEdges"><rect width="28" height="28" fill="#ffffff"/><path fill="#000000" d="M0 0h1v1h-1zM9 0h1v1h-1zM18 0h2v1h-2zM27 0h1v1h-1zM4 2h2v1h-2zM13 2h2v1h-2zM23 2h1v1h-1zM8 3h1v1h-1zM17 3h1v1h-1zM23 3h1v1h-1zM26 3h2v1h-2zM2 4h1v1h-1zM8 4h1v1h-1zM11 4h1v1h-1zM17 4h1v1h-1zM21 4h1v1h-1zM26 4h2v1h-2zM2 5h1v1h-1zM11 5h2v1h-2zM21 5h1v1h-1zM6 7h2v1h-2zM16 7h1v1h-1zM25 7h2v1h-2zM3 8h1v1h-1zM12 8h2v1h-2zM22 8h1v1h-1zM0 9h1v1h-1zM9 9h1v1h-1zM18 9h2v1h-2zM27 9h1v1h-1zM9 10h1v1h-1zM4 11h1v1h-1zM14 11h1v1h-1zM23 11h1v1h-1zM4 12h2v1h-2zM14 12h1v1h-1zM23 12h1v1h-1zM8 13h1v1h-1zM17 13h1v1h-1zM26 13h2v1h-2zM2 14h1v1h-1zM11 14h2v1h-2zM20 14h2v1h-2zM6 16h2v1h-2zM16 16h1v1h-1zM25 16h2v1h-2zM3 17h1v1h-1zM12 17h2v1h-2zM16 17h1v1h-1zM22 17h1v1h-1zM0 18h1v1h-1zM3 18h1v1h-1zM9 18h1v1h-1zM12 18h2v1h-2zM18 18h1v1h-1zM22 18h1v1h-1zM0 19h1v1h-1zM9 19h1v1h-1zM18 19h2v1h-2zM4 21h2v1h-2zM13 21h2v1h-2zM23 21h1v1h-1zM8 22h1v1h-1zM17 22h1v1h-1zM26 22h2v1h-2zM2 23h1v1h-1zM11 23h2v1h-2zM20 23h2v1h-2zM2 24h1v1h-1zM7 25h1v1h-1zM16 25h1v1h-1zM25 25h1v1h-1zM7 26h1v1h-1zM16 26h1v1h-1zM25 26h2v1h-2zM3 27h1v1h-1zM12 27h2v1h-2zM22 27h1v1h-1z"/><path fill="#010101" d="M14 3h1v1h-1zM20 5h1v1h-1zM0 10h1v1h-1zM13 12h1v1h-1zM27 19h1v1h-1z"/><path fill="#020202" d="M7 17h1v1h-1zM21 24h1v1h-1zM6 26h1v1h-1z"/><path fill="#030303" d="M8 12h1v1h-1zM22 26h1v1h-1z"/><path fill="#040404" d="M17 12h1v1h-1z"/><path fill="#050505" d="M25 17h1v1h-1zM11 24h1v1h-1zM3 26h1v1h-1z"/><path fill="#060606" d="M4 3h1v1h-1zM18 10h1v1h-1z"/><path fill="#080808" d="M12 4h1v1h-1zM5 11h1v1h-1zM19 18h1v1h-1zM26 25h1v1h-1z"/><path fill="#0a0a0a" d="M18 22h1v1h-1z"/><path fill="#0b0b0b" d="M4 8h1v1h-1z"/><path fill="#0d0d0d" d="M4 27h1v1h-1z"/><path fill="#0f0f0f" d="M18 13h1v1h-1z"/><path fill="#121212" d="M13 11h1v1h-1zM27 18h1v1h-1zM6 25h1v1h-1zM13 26h1v1h-1z"/><path fill="#131313" d="M20 4h1v1h-1z"/><path fill="#151515" d="M27 12h1v1h-1z"/><path fill="#171717" d="M18 3h1v1h-1z"/><path fill="#181818" d="M26 12h1v1h-1z"/><path fill="#1a1a1a" d="M4 17h1v1h-1zM12 26h1v1h-1z"/><path fill="#1b1b1b" d="M21 8h1v1h-1zM26 17h1v1h-1z"/><path fill="#1c1c1c" d="M5 3h1v1h-1zM19 10h1v1h-1zM7 22h1v1h-1z"/><path fill="#1e1e1e" d="M7 13h1v1h-1zM12 24h1v1h-1z"/><path fill="#212121" d="M21 27h1v1h-1z"/><path fill="#222222" d="M4 18h1v1h-1z"/><path fill="#242424" d="M13 3h1v1h-1z"/><path fill="#252525" d="M18 4h1v1h-1zM8 23h1v1h-1zM20 24h1v1h-1z"/><path fill="#262626" d="M3 9h1v1h-1zM6 17h1v1h-1z"/><path fill="#272727" d="M22 9h1v1h-1zM27 10h1v1h-1zM21 17h1v1h-1z"/><path fill="#292929" d="M17 23h1v1h-1z"/><path fill="#2c2c2c" d="M7 3h1v1h-1z"/><path fill="#2e2e2e" d="M16 6h1v1h-1zM2 13h1v1h-1z"/><path fill="#2f2f2f" d="M23 20h1v1h-1zM9 27h1v1h-1z"/><path fill="#303030" d="M7 4h1v1h-1z"/><path fill="#313131" d="M27 23h1v1h-1z"/><path fill="#323232" d="M14 20h1v1h-1zM0 27h1v1h-1z"/><path fill="#343434" d="M11 13h1v1h-1z"/><path fill="#353535" d="M25 6h1v1h-1zM21 13h1v1h-1z"/><path fill="#363636" d="M12 9h1v1h-1zM21 18h1v1h-1z"/><path fill="#373737" d="M7 6h1v1h-1zM13 9h1v1h-1z"/><path fill="#383838" d="M10 0h1v1h-1zM3 14h1v1h-1zM18 27h1v1h-1z"/><path fill="#393939" d="M17 7h1v1h-1zM24 21h1v1h-1z"/><path fill="#3a3a3a" d="M24 2h1v1h-1zM17 16h1v1h-1zM4 20h1v1h-1z"/><path fill="#3c3c3c" d="M26 23h1v1h-1z"/><path fill="#3e3e3e" d="M18 12h1v1h-1zM3 23h1v1h-1z"/><path fill="#3f3f3f" d="M3 5h1v1h-1zM10 9h1v1h-1zM10 19h1v1h-1zM4 26h1v1h-1z"/><path fill="#424242" d="M17 26h1v1h-1z"/><path fill="#454545" d="M12 13h1v1h-1z"/><path fill="#464646" d="M24 12h1v1h-1zM5 20h1v1h-1z"/><path fill="#474747" d="M19 27h1v1h-1z"/><path fill="#4a4a4a" d="M27 27h1v1h-1z"/><path fill="#4b4b4b" d="M3 4h1v1h-1zM24 11h1v1h-1zM21 26h1v1h-1z"/><path fill="#4c4c4c" d="M8 0h1v1h-1zM1 14h1v1h-1zM17 25h1v1h-1z"/><path fill="#4d4d4d" d="M6 6h1v1h-1z"/><path fill="#4e4e4e" d="M22 2h1v1h-1zM15 7h1v1h-1zM15 16h1v1h-1zM22 21h1v1h-1z"/><path fill="#4f4f4f" d="M26 6h1v1h-1zM7 12h1v1h-1zM20 13h1v1h-1z"/><path fill="#525252" d="M1 5h1v1h-1zM8 9h1v1h-1zM8 19h1v1h-1z"/><path fill="#535353" d="M17 17h1v1h-1z"/><path fill="#545454" d="M1 23h1v1h-1z"/><path fill="#555555" d="M10 18h1v1h-1z"/><path fill="#565656" d="M22 12h1v1h-1zM13 20h1v1h-1z"/><path fill="#575757" d="M16 8h1v1h-1zM2 15h1v1h-1z"/><path fill="#585858" d="M9 1h1v1h-1zM14 22h1v1h-1zM23 22h1v1h-1zM18 23h1v1h-1z"/><path fill="#595959" d="M0 1h1v1h-1zM10 10h1v1h-1z"/><path fill="#5a5a5a" d="M25 8h1v1h-1zM11 15h1v1h-1z"/><path fill="#5b5b5b" d="M15 26h1v1h-1z"/><path fill="#5c5c5c" d="M4 9h1v1h-1zM8 18h1v1h-1zM3 24h1v1h-1z"/><path fill="#5d5d5d" d="M7 8h1v1h-1zM22 11h1v1h-1zM15 25h1v1h-1z"/><path fill="#5f5f5f" d="M4 22h1v1h-1z"/><path fill="#606060" d="M21 15h1v1h-1z"/><path fill="#616161" d="M22 7h1v1h-1zM17 21h1v1h-1z"/><path fill="#626262" d="M22 3h1v1h-1z"/><path fill="#646464" d="M18 1h1v1h-1zM24 3h1v1h-1z"/><path fill="#656565" d="M8 21h1v1h-1z"/><path fill="#666666" d="M26 8h1v1h-1zM21 9h1v1h-1zM3 13h1v1h-1z"/><path fill="#676767" d="M3 7h1v1h-1zM7 23h1v1h-1z"/><path fill="#686868" d="M19 1h1v1h-1zM1 4h1v1h-1zM13 7h1v1h-1zM5 22h1v1h-1zM13 22h1v1h-1z"/><path fill="#696969" d="M1 24h1v1h-1z"/><path fill="#6b6b6b" d="M26 21h1v1h-1z"/><path fill="#6c6c6c" d="M8 10h1v1h-1zM9 22h1v1h-1zM23 27h1v1h-1z"/><path fill="#6e6e6e" d="M20 15h1v1h-1zM8 27h1v1h-1z"/><path fill="#6f6f6f" d="M23 8h1v1h-1z"/><path fill="#707070" d="M9 3h1v1h-1zM6 8h1v1h-1z"/><path fill="#737373" d="M9 13h1v1h-1z"/><path fill="#747474" d="M17 8h1v1h-1zM27 21h1v1h-1z"/><path fill="#757575" d="M12 15h1v1h-1z"/><path fill="#767676" d="M15 17h1v1h-1zM23 18h1v1h-1z"/><path fill="#787878" d="M12 7h1v1h-1zM24 20h1v1h-1zM22 22h1v1h-1z"/><path fill="#7c7c7c" d="M27 1h1v1h-1zM23 17h1v1h-1z"/><path fill="#818181" d="M2 8h1v1h-1zM16 13h1v1h-1z"/><path fill="#828282" d="M17 6h1v1h-1z"/><path fill="#838383" d="M2 17h1v1h-1zM10 27h1v1h-1z"/><path fill="#848484" d="M9 4h1v1h-1zM15 6h1v1h-1zM16 22h1v1h-1z"/><path fill="#858585" d="M4 7h1v1h-1z"/><path fill="#878787" d="M8 8h1v1h-1z"/><path fill="#888888" d="M16 4h1v1h-1zM9 12h1v1h-1z"/><path fill="#898989" d="M2 27h1v1h-1z"/><path fill="#8b8b8b" d="M3 0h1v1h-1zM8 14h1v1h-1zM3 22h1v1h-1z"/><path fill="#8e8e8e" d="M27 14h1v1h-1z"/><path fill="#8f8f8f" d="M22 20h1v1h-1zM7 21h1v1h-1z"/><path fill="#909090" d="M12 0h1v1h-1zM22 0h1v1h-1zM10 1h1v1h-1zM18 21h1v1h-1z"/><path fill="#919191" d="M16 3h1v1h-1zM22 13h1v1h-1z"/><path fill="#929292" d="M17 14h1v1h-1z"/><path fill="#939393" d="M1 13h1v1h-1z"/><path fill="#959595" d="M14 1h1v1h-1zM0 8h1v1h-1zM11 22h1v1h-1zM23 26h1v1h-1z"/><path fill="#969696" d="M25 15h1v1h-1z"/><path fill="#979797" d="M27 8h1v1h-1zM16 15h1v1h-1zM2 22h1v1h-1z"/><path fill="#989898" d="M23 1h1v1h-1zM9 8h1v1h-1zM2 18h1v1h-1zM2 26h1v1h-1z"/><path fill="#999999" d="M21 7h1v1h-1zM12 22h1v1h-1zM17 27h1v1h-1z"/><path fill="#9a9a9a" d="M1 15h1v1h-1z"/><path fill="#9c9c9c" d="M23 9h1v1h-1zM21 22h1v1h-1zM24 22h1v1h-1z"/><path fill="#9d9d9d" d="M13 0h1v1h-1zM5 1h1v1h-1zM18 8h2v1h-2zM8 17h1v1h-1z"/><path fill="#9f9f9f" d="M15 2h1v1h-1zM22 5h1v1h-1zM8 16h1v1h-1z"/><path fill="#a0a0a0" d="M1 0h1v1h-1zM3 15h1v1h-1zM6 15h2v1h-2zM1 19h1v1h-1z"/><path fill="#a1a1a1" d="M22 14h1v1h-1zM26 14h1v1h-1z"/><path fill="#a2a2a2" d="M20 22h1v1h-1z"/><path fill="#a3a3a3" d="M4 1h1v1h-1zM22 4h1v1h-1zM15 21h1v1h-1z"/><path fill="#a4a4a4" d="M8 7h1v1h-1zM15 11h1v1h-1zM18 14h1v1h-1zM8 25h1v1h-1z"/><path fill="#a5a5a5" d="M9 23h1v1h-1z"/><path fill="#a6a6a6" d="M22 23h1v1h-1z"/><path fill="#a7a7a7" d="M8 26h1v1h-1z"/><path fill="#a8a8a8" d="M16 12h1v1h-1z"/><path fill="#a9a9a9" d="M15 8h1v1h-1zM1 9h1v1h-1z"/><path fill="#aaaaaa" d="M8 1h1v1h-1zM16 23h1v1h-1z"/><path fill="#ababab" d="M1 10h1v1h-1z"/><path fill="#acacac" d="M21 0h1v1h-1zM3 3h1v1h-1z"/><path fill="#aeaeae" d="M15 12h1v1h-1zM22 24h1v1h-1z"/><path fill="#b0b0b0" d="M26 15h1v1h-1z"/><path fill="#b2b2b2" d="M3 2h1v1h-1zM10 5h1v1h-1zM24 16h1v1h-1zM17 19h1v1h-1z"/><path fill="#b3b3b3" d="M4 0h1v1h-1z"/><path fill="#b4b4b4" d="M13 1h1v1h-1zM10 14h1v1h-1zM17 18h1v1h-1z"/><path fill="#b5b5b5" d="M2 9h1v1h-1zM3 11h1v1h-1zM13 13h1v1h-1zM24 25h1v1h-1z"/><path fill="#b6b6b6" d="M17 0h1v1h-1zM24 1h1v1h-1zM24 7h1v1h-1z"/><path fill="#b7b7b7" d="M1 18h1v1h-1z"/><path fill="#b8b8b8" d="M3 21h1v1h-1z"/><path fill="#b9b9b9" d="M15 20h1v1h-1z"/><path fill="#bababa" d="M3 12h1v1h-1zM7 14h1v1h-1zM10 24h1v1h-1zM26 27h1v1h-1z"/><path fill="#bbbbbb" d="M11 6h1v1h-1zM17 9h1v1h-1zM14 13h1v1h-1zM0 20h1v1h-1zM25 27h1v1h-1z"/><path fill="#bcbcbc" d="M10 23h1v1h-1z"/><path fill="#bdbdbd" d="M17 10h1v1h-1zM15 15h1v1h-1z"/><path fill="#bebebe" d="M2 6h1v1h-1zM19 20h1v1h-1z"/><path fill="#bfbfbf" d="M15 3h1v1h-1zM5 13h1v1h-1zM9 20h1v1h-1z"/><path fill="#c0c0c0" d="M9 21h1v1h-1zM16 27h1v1h-1z"/><path fill="#c1c1c1" d="M20 6h1v1h-1zM23 7h1v1h-1zM23 13h1v1h-1zM24 26h1v1h-1z"/><path fill="#c2c2c2" d="M10 8h1v1h-1z"/><path fill="#c3c3c3" d="M6 27h1v1h-1z"/><path fill="#c4c4c4" d="M17 2h1v1h-1zM8 6h1v1h-1zM4 13h1v1h-1zM13 16h1v1h-1zM7 27h1v1h-1z"/><path fill="#c5c5c5" d="M26 2h1v1h-1zM22 16h1v1h-1z"/><path fill="#c6c6c6" d="M1 1h1v1h-1zM21 6h1v1h-1zM24 6h1v1h-1z"/><path fill="#c8c8c8" d="M10 4h1v1h-1zM18 20h1v1h-1z"/><path fill="#cacaca" d="M8 2h1v1h-1zM2 7h1v1h-1z"/><path fill="#cccccc" d="M0 3h1v1h-1zM17 15h1v1h-1zM3 16h1v1h-1zM1 22h1v1h-1zM14 27h1v1h-1z"/><path fill="#cdcdcd" d="M14 18h1v1h-1zM16 21h1v1h-1z"/><path fill="#cecece" d="M0 22h1v1h-1z"/><path fill="#cfcfcf" d="M24 17h1v1h-1zM10 20h1v1h-1z"/><path fill="#d0d0d0" d="M10 15h1v1h-1zM4 16h1v1h-1zM1 27h1v1h-1z"/><path fill="#d1d1d1" d="M3 20h1v1h-1z"/><path fill="#d2d2d2" d="M12 6h1v1h-1zM14 8h1v1h-1z"/><path fill="#d3d3d3" d="M22 1h1v1h-1zM1 6h1v1h-1z"/><path fill="#d4d4d4" d="M27 2h1v1h-1zM9 14h1v1h-1z"/><path fill="#d5d5d5" d="M0 12h1v1h-1zM0 13h1v1h-1zM27 20h1v1h-1z"/><path fill="#d6d6d6" d="M7 2h1v1h-1zM22 15h1v1h-1zM12 16h1v1h-1z"/><path fill="#d7d7d7" d="M23 0h1v1h-1z"/><path fill="#d9d9d9" d="M15 1h1v1h-1z"/><path fill="#dbdbdb" d="M24 13h1v1h-1zM11 17h1v1h-1zM14 17h1v1h-1zM27 17h1v1h-1z"/><path fill="#dcdcdc" d="M25 4h1v1h-1zM25 13h1v1h-1zM15 22h1v1h-1z"/><path fill="#dddddd" d="M10 13h1v1h-1z"/><path fill="#dedede" d="M2 0h1v1h-1zM0 4h1v1h-1zM11 8h1v1h-1z"/><path fill="#dfdfdf" d="M14 9h1v1h-1zM16 14h1v1h-1z"/><path fill="#e0e0e0" d="M17 1h1v1h-1zM24 15h1v1h-1z"/><path fill="#e1e1e1" d="M18 2h1v1h-1zM25 22h1v1h-1z"/><path fill="#e2e2e2" d="M27 5h1v1h-1zM12 19h1v1h-1zM11 26h1v1h-1zM15 27h1v1h-1z"/><path fill="#e4e4e4" d="M12 3h1v1h-1zM8 5h1v1h-1zM3 19h1v1h-1zM11 27h1v1h-1z"/><path fill="#e5e5e5" d="M3 6h1v1h-1zM21 16h1v1h-1z"/><path fill="#e6e6e6" d="M1 20h1v1h-1zM14 26h1v1h-1z"/><path fill="#e7e7e7" d="M24 8h1v1h-1z"/><path fill="#e8e8e8" d="M25 3h1v1h-1zM22 19h1v1h-1z"/><path fill="#e9e9e9" d="M17 5h2v1h-2zM5 10h1v1h-1zM14 10h1v1h-1zM25 24h1v1h-1z"/><path fill="#eaeaea" d="M11 3h1v1h-1zM19 17h1v1h-1zM8 20h1v1h-1zM25 23h1v1h-1zM6 24h1v1h-1z"/><path fill="#ebebeb" d="M20 3h1v1h-1zM10 6h1v1h-1zM11 18h1v1h-1z"/><path fill="#ececec" d="M0 17h1v1h-1zM0 23h1v1h-1zM16 24h1v1h-1z"/><path fill="#ededed" d="M13 4h1v1h-1zM23 10h1v1h-1zM21 19h1v1h-1z"/><path fill="#eeeeee" d="M24 10h1v1h-1z"/><path fill="#efefef" d="M6 2h1v1h-1zM6 11h1v1h-1zM8 15h1v1h-1zM23 16h1v1h-1zM13 19h1v1h-1zM20 19h1v1h-1zM27 25h1v1h-1z"/><path fill="#f0f0f0" d="M13 5h1v1h-1zM26 5h1v1h-1zM1 8h1v1h-1zM20 10h1v1h-1zM25 12h1v1h-1zM15 24h1v1h-1z"/><path fill="#f1f1f1" d="M20 0h1v1h-1zM0 21h1v1h-1zM7 24h1v1h-1z"/><path fill="#f2f2f2" d="M4 10h1v1h-1zM6 20h1v1h-1zM13 24h1v1h-1z"/><path fill="#f3f3f3" d="M27 16h1v1h-1zM6 21h1v1h-1z"/><path fill="#f4f4f4" d="M20 1h1v1h-1zM9 2h1v1h-1zM2 3h1v1h-1z"/><path fill="#f5f5f5" d="M11 9h1v1h-1zM20 9h1v1h-1zM9 17h1v1h-1zM18 17h1v1h-1z"/><path fill="#f6f6f6" d="M3 1h1v1h-1zM16 2h1v1h-1zM14 7h1v1h-1zM15 10h1v1h-1zM4 19h1v1h-1zM26 24h1v1h-1z"/><path fill="#f7f7f7" d="M21 3h1v1h-1zM13 10h1v1h-1zM6 12h1v1h-1zM26 18h1v1h-1zM10 22h1v1h-1z"/><path fill="#f8f8f8" d="M6 1h1v1h-1zM7 5h1v1h-1zM2 16h1v1h-1zM24 24h1v1h-1z"/><path fill="#f9f9f9" d="M19 5h1v1h-1zM11 7h1v1h-1zM12 11h1v1h-1zM5 16h1v1h-1zM10 17h1v1h-1zM20 18h1v1h-1zM19 24h1v1h-1zM5 25h1v1h-1z"/><path fill="#fafafa" d="M5 6h1v1h-1zM13 14h1v1h-1zM19 14h1v1h-1zM20 20h1v1h-1z"/><path fill="#fbfbfb" d="M6 3h1v1h-1zM27 6h1v1h-1zM5 7h1v1h-1zM26 10h1v1h-1zM19 15h1v1h-1zM26 19h1v1h-1zM27 26h1v1h-1z"/><path fill="#fcfcfc" d="M14 0h1v1h-1zM22 6h1v1h-1zM15 13h1v1h-1zM5 15h1v1h-1zM25 21h1v1h-1zM19 23h1v1h-1z"/><path fill="#fdfdfd" d="M1 3h1v1h-1zM5 4h1v1h-1zM19 6h1v1h-1zM27 7h1v1h-1zM6 10h1v1h-1zM0 11h1v1h-1zM19 11h1v1h-1zM0 14h1v1h-1zM17 24h1v1h-1zM11 25h1v1h-1zM20 25h1v1h-1zM5 26h1v1h-1z"/><path fill="#fefefe" d="M19 4h1v1h-1zM1 11h1v1h-1zM9 11h2v1h-2zM18 11h1v1h-1zM6 18h1v1h-1zM13 23h1v1h-1zM5 24h1v1h-1zM1 25h2v1h-2zM10 25h1v1h-1zM21 25h1v1h-1zM20 27h1v1h-1z"/></g></pattern><pattern id="pMAPAF" patternUnits="userSpaceOnUse" width="28" height="28"><g shape-rendering="crispEdges"><rect width="28" height="28" fill="#000000"/><path fill="#010101" d="M0 4h1v1h-1zM11 4h1v1h-1zM14 4h1v1h-1zM25 4h1v1h-1zM4 11h1v1h-1zM7 11h1v1h-1zM18 11h1v1h-1zM21 11h1v1h-1zM0 18h1v1h-1zM11 18h1v1h-1zM14 18h1v1h-1zM25 18h1v1h-1zM4 25h1v1h-1zM7 25h1v1h-1zM18 25h1v1h-1zM21 25h1v1h-1z"/><path fill="#020202" d="M1 4h1v1h-1zM5 4h2v1h-2zM10 4h1v1h-1zM15 4h1v1h-1zM19 4h2v1h-2zM24 4h1v1h-1zM3 11h1v1h-1zM8 11h1v1h-1zM12 11h2v1h-2zM17 11h1v1h-1zM22 11h1v1h-1zM26 11h2v1h-2zM1 18h1v1h-1zM5 18h2v1h-2zM10 18h1v1h-1zM15 18h1v1h-1zM19 18h2v1h-2zM24 18h1v1h-1zM3 25h1v1h-1zM8 25h1v1h-1zM12 25h2v1h-2zM17 25h1v1h-1zM22 25h1v1h-1zM26 25h2v1h-2z"/><path fill="#0b0b0b" d="M11 0h1v1h-1zM25 0h1v1h-1zM4 7h1v1h-1zM18 7h1v1h-1zM11 14h1v1h-1zM25 14h1v1h-1zM4 21h1v1h-1zM18 21h1v1h-1z"/><path fill="#0d0d0d" d="M11 1h1v1h-1zM25 1h1v1h-1zM4 8h1v1h-1zM18 8h1v1h-1zM11 15h1v1h-1zM25 15h1v1h-1zM4 22h1v1h-1zM18 22h1v1h-1z"/><path fill="#141414" d="M9 2h1v1h-1zM23 2h1v1h-1zM2 9h1v1h-1zM16 9h1v1h-1zM9 16h1v1h-1zM23 16h1v1h-1zM2 23h1v1h-1zM16 23h1v1h-1z"/><path fill="#151515" d="M0 0h1v1h-1zM14 0h1v1h-1zM7 7h1v1h-1zM21 7h1v1h-1zM0 14h1v1h-1zM14 14h1v1h-1zM7 21h1v1h-1zM21 21h1v1h-1z"/><path fill="#171717" d="M0 1h1v1h-1zM14 1h1v1h-1zM7 8h1v1h-1zM21 8h1v1h-1zM0 15h1v1h-1zM14 15h1v1h-1zM7 22h1v1h-1zM21 22h1v1h-1z"/><path fill="#181818" d="M2 6h1v1h-1zM16 6h1v1h-1zM9 13h1v1h-1zM23 13h1v1h-1zM2 20h1v1h-1zM16 20h1v1h-1zM9 27h1v1h-1zM23 27h1v1h-1z"/><path fill="#1a1a1a" d="M2 2h1v1h-1zM16 2h1v1h-1zM9 9h1v1h-1zM23 9h1v1h-1zM2 16h1v1h-1zM16 16h1v1h-1zM9 23h1v1h-1zM23 23h1v1h-1z"/><path fill="#1f1f1f" d="M11 5h1v1h-1zM25 5h1v1h-1zM9 6h1v1h-1zM23 6h1v1h-1zM4 12h1v1h-1zM18 12h1v1h-1zM2 13h1v1h-1zM16 13h1v1h-1zM11 19h1v1h-1zM25 19h1v1h-1zM9 20h1v1h-1zM23 20h1v1h-1zM4 26h1v1h-1zM18 26h1v1h-1zM2 27h1v1h-1zM16 27h1v1h-1z"/><path fill="#202020" d="M4 3h1v1h-1zM18 3h1v1h-1zM11 10h1v1h-1zM25 10h1v1h-1zM4 17h1v1h-1zM18 17h1v1h-1zM11 24h1v1h-1zM25 24h1v1h-1z"/><path fill="#2d2d2d" d="M0 5h1v1h-1zM14 5h1v1h-1zM7 12h1v1h-1zM21 12h1v1h-1zM0 19h1v1h-1zM14 19h1v1h-1zM7 26h1v1h-1zM21 26h1v1h-1z"/><path fill="#2e2e2e" d="M7 3h1v1h-1zM21 3h1v1h-1zM0 10h1v1h-1zM14 10h1v1h-1zM7 17h1v1h-1zM21 17h1v1h-1zM0 24h1v1h-1zM14 24h1v1h-1z"/><path fill="#303030" d="M0 2h1v1h-1zM14 2h1v1h-1zM7 9h1v1h-1zM21 9h1v1h-1zM0 16h1v1h-1zM14 16h1v1h-1zM7 23h1v1h-1zM21 23h1v1h-1z"/><path fill="#353535" d="M11 2h1v1h-1zM25 2h1v1h-1zM4 9h1v1h-1zM18 9h1v1h-1zM11 16h1v1h-1zM25 16h1v1h-1zM4 23h1v1h-1zM18 23h1v1h-1z"/><path fill="#383838" d="M7 6h1v1h-1zM21 6h1v1h-1zM0 13h1v1h-1zM14 13h1v1h-1zM7 20h1v1h-1zM21 20h1v1h-1zM0 27h1v1h-1zM14 27h1v1h-1z"/><path fill="#3d3d3d" d="M4 6h1v1h-1zM18 6h1v1h-1zM11 13h1v1h-1zM25 13h1v1h-1zM4 20h1v1h-1zM18 20h1v1h-1zM11 27h1v1h-1zM25 27h1v1h-1z"/><path fill="#424242" d="M5 2h1v1h-1zM19 2h1v1h-1zM12 9h1v1h-1zM26 9h1v1h-1zM5 16h1v1h-1zM19 16h1v1h-1zM12 23h1v1h-1zM26 23h1v1h-1z"/><path fill="#444444" d="M2 0h1v1h-1zM16 0h1v1h-1zM6 2h1v1h-1zM20 2h1v1h-1zM9 7h1v1h-1zM23 7h1v1h-1zM13 9h1v1h-1zM27 9h1v1h-1zM2 14h1v1h-1zM16 14h1v1h-1zM6 16h1v1h-1zM20 16h1v1h-1zM9 21h1v1h-1zM23 21h1v1h-1zM13 23h1v1h-1zM27 23h1v1h-1z"/><path fill="#494949" d="M2 1h1v1h-1zM16 1h1v1h-1zM9 8h1v1h-1zM23 8h1v1h-1zM2 15h1v1h-1zM16 15h1v1h-1zM9 22h1v1h-1zM23 22h1v1h-1z"/><path fill="#4a4a4a" d="M1 2h1v1h-1zM10 2h1v1h-1zM15 2h1v1h-1zM24 2h1v1h-1zM3 9h1v1h-1zM8 9h1v1h-1zM17 9h1v1h-1zM22 9h1v1h-1zM1 16h1v1h-1zM10 16h1v1h-1zM15 16h1v1h-1zM24 16h1v1h-1zM3 23h1v1h-1zM8 23h1v1h-1zM17 23h1v1h-1zM22 23h1v1h-1z"/><path fill="#4c4c4c" d="M12 6h1v1h-1zM26 6h1v1h-1zM5 13h1v1h-1zM19 13h1v1h-1zM12 20h1v1h-1zM26 20h1v1h-1zM5 27h1v1h-1zM19 27h1v1h-1z"/><path fill="#4e4e4e" d="M13 6h1v1h-1zM27 6h1v1h-1zM6 13h1v1h-1zM20 13h1v1h-1zM13 20h1v1h-1zM27 20h1v1h-1zM6 27h1v1h-1zM20 27h1v1h-1z"/><path fill="#515151" d="M9 0h1v1h-1zM23 0h1v1h-1zM2 7h1v1h-1zM16 7h1v1h-1zM9 14h1v1h-1zM23 14h1v1h-1zM2 21h1v1h-1zM16 21h1v1h-1z"/><path fill="#545454" d="M3 6h1v1h-1zM17 6h1v1h-1zM10 13h1v1h-1zM24 13h1v1h-1zM3 20h1v1h-1zM17 20h1v1h-1zM10 27h1v1h-1zM24 27h1v1h-1z"/><path fill="#555555" d="M8 6h1v1h-1zM22 6h1v1h-1zM1 13h1v1h-1zM15 13h1v1h-1zM8 20h1v1h-1zM22 20h1v1h-1zM1 27h1v1h-1zM15 27h1v1h-1z"/><path fill="#575757" d="M9 1h1v1h-1zM23 1h1v1h-1zM2 8h1v1h-1zM16 8h1v1h-1zM9 15h1v1h-1zM23 15h1v1h-1zM2 22h1v1h-1zM16 22h1v1h-1z"/><path fill="#6e6e6e" d="M2 5h1v1h-1zM16 5h1v1h-1zM9 12h1v1h-1zM23 12h1v1h-1zM2 19h1v1h-1zM16 19h1v1h-1zM9 26h1v1h-1zM23 26h1v1h-1z"/><path fill="#717171" d="M9 3h1v1h-1zM23 3h1v1h-1zM2 10h1v1h-1zM16 10h1v1h-1zM9 17h1v1h-1zM23 17h1v1h-1zM2 24h1v1h-1zM16 24h1v1h-1z"/><path fill="#808080" d="M9 5h1v1h-1zM23 5h1v1h-1zM2 12h1v1h-1zM16 12h1v1h-1zM9 19h1v1h-1zM23 19h1v1h-1zM2 26h1v1h-1zM16 26h1v1h-1z"/><path fill="#818181" d="M7 0h1v1h-1zM21 0h1v1h-1zM0 7h1v1h-1zM14 7h1v1h-1zM7 14h1v1h-1zM21 14h1v1h-1zM0 21h1v1h-1zM14 21h1v1h-1z"/><path fill="#838383" d="M2 3h1v1h-1zM16 3h1v1h-1zM9 10h1v1h-1zM23 10h1v1h-1zM2 17h1v1h-1zM16 17h1v1h-1zM9 24h1v1h-1zM23 24h1v1h-1z"/><path fill="#888888" d="M7 1h1v1h-1zM21 1h1v1h-1zM0 8h1v1h-1zM14 8h1v1h-1zM7 15h1v1h-1zM21 15h1v1h-1zM0 22h1v1h-1zM14 22h1v1h-1z"/><path fill="#8b8b8b" d="M4 0h1v1h-1zM18 0h1v1h-1zM11 7h1v1h-1zM25 7h1v1h-1zM4 14h1v1h-1zM18 14h1v1h-1zM11 21h1v1h-1zM25 21h1v1h-1z"/><path fill="#939393" d="M4 1h1v1h-1zM18 1h1v1h-1zM11 8h1v1h-1zM25 8h1v1h-1zM4 15h1v1h-1zM18 15h1v1h-1zM11 22h1v1h-1zM25 22h1v1h-1z"/><path fill="#a7a7a7" d="M12 0h1v1h-1zM26 0h1v1h-1zM5 7h1v1h-1zM19 7h1v1h-1zM12 14h1v1h-1zM26 14h1v1h-1zM5 21h1v1h-1zM19 21h1v1h-1z"/><path fill="#ababab" d="M13 0h1v1h-1zM27 0h1v1h-1zM6 7h1v1h-1zM20 7h1v1h-1zM13 14h1v1h-1zM27 14h1v1h-1zM6 21h1v1h-1zM20 21h1v1h-1z"/><path fill="#b1b1b1" d="M12 1h1v1h-1zM26 1h1v1h-1zM5 8h1v1h-1zM19 8h1v1h-1zM12 15h1v1h-1zM26 15h1v1h-1zM5 22h1v1h-1zM19 22h1v1h-1z"/><path fill="#b5b5b5" d="M13 1h1v1h-1zM27 1h1v1h-1zM6 8h1v1h-1zM20 8h1v1h-1zM13 15h1v1h-1zM27 15h1v1h-1zM6 22h1v1h-1zM20 22h1v1h-1z"/><path fill="#b7b7b7" d="M3 0h1v1h-1zM17 0h1v1h-1zM10 7h1v1h-1zM24 7h1v1h-1zM3 14h1v1h-1zM17 14h1v1h-1zM10 21h1v1h-1zM24 21h1v1h-1z"/><path fill="#b8b8b8" d="M8 0h1v1h-1zM22 0h1v1h-1zM1 7h1v1h-1zM15 7h1v1h-1zM8 14h1v1h-1zM22 14h1v1h-1zM1 21h1v1h-1zM15 21h1v1h-1z"/><path fill="#c1c1c1" d="M3 1h1v1h-1zM17 1h1v1h-1zM7 5h1v1h-1zM21 5h1v1h-1zM10 8h1v1h-1zM24 8h1v1h-1zM0 12h1v1h-1zM14 12h1v1h-1zM3 15h1v1h-1zM17 15h1v1h-1zM7 19h1v1h-1zM21 19h1v1h-1zM10 22h1v1h-1zM24 22h1v1h-1zM0 26h1v1h-1zM14 26h1v1h-1z"/><path fill="#c3c3c3" d="M8 1h1v1h-1zM22 1h1v1h-1zM1 8h1v1h-1zM15 8h1v1h-1zM8 15h1v1h-1zM22 15h1v1h-1zM1 22h1v1h-1zM15 22h1v1h-1z"/><path fill="#c5c5c5" d="M0 3h1v1h-1zM14 3h1v1h-1zM7 10h1v1h-1zM21 10h1v1h-1zM0 17h1v1h-1zM14 17h1v1h-1zM7 24h1v1h-1zM21 24h1v1h-1z"/><path fill="#cfcfcf" d="M4 5h1v1h-1zM18 5h1v1h-1zM11 12h1v1h-1zM25 12h1v1h-1zM4 19h1v1h-1zM18 19h1v1h-1zM11 26h1v1h-1zM25 26h1v1h-1z"/><path fill="#d3d3d3" d="M11 3h1v1h-1zM25 3h1v1h-1zM4 10h1v1h-1zM18 10h1v1h-1zM11 17h1v1h-1zM25 17h1v1h-1zM4 24h1v1h-1zM18 24h1v1h-1z"/><path fill="#f6f6f6" d="M12 5h1v1h-1zM26 5h1v1h-1zM5 12h1v1h-1zM19 12h1v1h-1zM12 19h1v1h-1zM26 19h1v1h-1zM5 26h1v1h-1zM19 26h1v1h-1z"/><path fill="#fafafa" d="M5 3h1v1h-1zM19 3h1v1h-1zM12 10h1v1h-1zM26 10h1v1h-1zM5 17h1v1h-1zM19 17h1v1h-1zM12 24h1v1h-1zM26 24h1v1h-1z"/><path fill="#fcfcfc" d="M13 5h1v1h-1zM27 5h1v1h-1zM6 12h1v1h-1zM20 12h1v1h-1zM13 19h1v1h-1zM27 19h1v1h-1zM6 26h1v1h-1zM20 26h1v1h-1z"/><path fill="#ffffff" d="M1 3h1v1h-1zM6 3h1v1h-1zM10 3h1v1h-1zM15 3h1v1h-1zM20 3h1v1h-1zM24 3h1v1h-1zM3 5h1v1h-1zM8 5h1v1h-1zM17 5h1v1h-1zM22 5h1v1h-1zM3 10h1v1h-1zM8 10h1v1h-1zM13 10h1v1h-1zM17 10h1v1h-1zM22 10h1v1h-1zM27 10h1v1h-1zM1 12h1v1h-1zM10 12h1v1h-1zM15 12h1v1h-1zM24 12h1v1h-1zM1 17h1v1h-1zM6 17h1v1h-1zM10 17h1v1h-1zM15 17h1v1h-1zM20 17h1v1h-1zM24 17h1v1h-1zM3 19h1v1h-1zM8 19h1v1h-1zM17 19h1v1h-1zM22 19h1v1h-1zM3 24h1v1h-1zM8 24h1v1h-1zM13 24h1v1h-1zM17 24h1v1h-1zM22 24h1v1h-1zM27 24h1v1h-1zM1 26h1v1h-1zM10 26h1v1h-1zM15 26h1v1h-1zM24 26h1v1h-1z"/></g></pattern></defs>
<rect width="787" height="378" fill="#fff"/>
<rect x="0" y="1" width="787" height="1" fill="#ececec"/>
<rect x="1" y="0" width="1" height="378" fill="#e8e8e8"/>
<rect x="0" y="0" width="787" height="1" fill="#cbcbcb"/>
<rect x="0" y="0" width="1" height="378" fill="#cbcbcb"/>
<rect x="0" y="377" width="787" height="1" fill="#f1f1f1"/>
<g font-size="15.1" fill="#595959" stroke="#595959" stroke-width="0.25"><text x="355.24" y="24.6" textLength="76.39" lengthAdjust="spacingAndGlyphs">pH changes</text></g>
<g><rect x="68.80" y="78.00" width="12.70" height="220.40" fill="url(#pCF)"/><rect x="84.80" y="78.00" width="12.70" height="220.40" fill="url(#pCFAF)"/><rect x="101.50" y="78.00" width="11.50" height="220.40" fill="#969696"/><rect x="116.80" y="78.20" width="12.70" height="220.20" fill="url(#pVAF)"/><rect x="132.80" y="78.20" width="12.70" height="220.20" fill="url(#pMAP)"/><rect x="148.80" y="78.20" width="12.70" height="220.20" fill="url(#pMAPAF)"/><rect x="189.00" y="73.30" width="12.70" height="225.10" fill="url(#pCF)"/><rect x="205.00" y="107.30" width="12.70" height="191.10" fill="url(#pCFAF)"/><rect x="220.90" y="100.50" width="12.30" height="197.90" fill="#969696"/><rect x="237.00" y="88.80" width="12.70" height="209.60" fill="url(#pVAF)"/><rect x="253.00" y="90.00" width="12.70" height="208.40" fill="url(#pMAP)"/><rect x="269.00" y="100.50" width="12.70" height="197.90" fill="url(#pMAPAF)"/><rect x="308.20" y="85.50" width="12.70" height="212.90" fill="url(#pCF)"/><rect x="324.20" y="110.90" width="12.70" height="187.50" fill="url(#pCFAF)"/><rect x="341.00" y="106.00" width="11.90" height="192.40" fill="#969696"/><rect x="356.20" y="101.30" width="12.70" height="197.10" fill="url(#pVAF)"/><rect x="372.20" y="107.00" width="12.70" height="191.40" fill="url(#pMAP)"/><rect x="388.20" y="86.10" width="12.70" height="212.30" fill="url(#pMAPAF)"/><rect x="428.40" y="110.00" width="12.70" height="188.40" fill="url(#pCF)"/><rect x="444.40" y="118.20" width="12.70" height="180.20" fill="url(#pCFAF)"/><rect x="460.30" y="118.00" width="12.60" height="180.40" fill="#969696"/><rect x="476.40" y="113.10" width="12.70" height="185.30" fill="url(#pVAF)"/><rect x="492.40" y="108.30" width="12.70" height="190.10" fill="url(#pMAP)"/><rect x="508.40" y="95.90" width="12.70" height="202.50" fill="url(#pMAPAF)"/><rect x="548.90" y="130.90" width="12.70" height="167.50" fill="url(#pCF)"/><rect x="564.90" y="149.20" width="12.70" height="149.20" fill="url(#pCFAF)"/><rect x="580.30" y="142.60" width="12.60" height="155.80" fill="#969696"/><rect x="596.90" y="130.50" width="12.70" height="167.90" fill="url(#pVAF)"/><rect x="612.90" y="117.00" width="12.70" height="181.40" fill="url(#pMAP)"/><rect x="628.90" y="97.00" width="12.70" height="201.40" fill="url(#pMAPAF)"/><rect x="699.20" y="168.00" width="12.70" height="130.40" fill="#969696"/><rect x="715.80" y="171.60" width="12.90" height="126.80" fill="url(#pVAF)"/><rect x="732.00" y="106.00" width="12.90" height="192.40" fill="url(#pMAP)"/><rect x="747.10" y="81.40" width="12.90" height="217.00" fill="url(#pMAPAF)"/></g>
<line x1="55.5" y1="44" x2="55.5" y2="298.4" stroke="#c8c8c8" stroke-width="1"/>
<line x1="55.5" y1="298.5" x2="774.5" y2="298.5" stroke="#c8c8c8" stroke-width="1"/>
<g font-size="11.5" fill="#000" stroke="#000" stroke-width="0.15"><text x="73.54" y="74.7" textLength="5.67" lengthAdjust="spacingAndGlyphs">a</text><text x="87.84" y="73.4" textLength="5.67" lengthAdjust="spacingAndGlyphs">a</text><text x="105.34" y="73.8" textLength="5.67" lengthAdjust="spacingAndGlyphs">a</text><text x="121.14" y="74.7" textLength="5.67" lengthAdjust="spacingAndGlyphs">a</text><text x="137.04" y="74.7" textLength="5.67" lengthAdjust="spacingAndGlyphs">a</text><text x="152.94" y="74.7" textLength="5.67" lengthAdjust="spacingAndGlyphs">a</text><text x="192.79" y="68.6" textLength="5.67" lengthAdjust="spacingAndGlyphs">a</text><text x="204.45" y="103.5" textLength="12.52" lengthAdjust="spacingAndGlyphs">ab</text><text x="221.05" y="96.9" textLength="12.52" lengthAdjust="spacingAndGlyphs">ab</text><text x="237.44" y="86.9" textLength="5.67" lengthAdjust="spacingAndGlyphs">a</text><text x="254.64" y="82.9" textLength="5.67" lengthAdjust="spacingAndGlyphs">a</text><text x="271.14" y="96.5" textLength="5.67" lengthAdjust="spacingAndGlyphs">a</text><text x="312.14" y="81.5" textLength="5.67" lengthAdjust="spacingAndGlyphs">a</text><text x="325.25" y="107.4" textLength="12.52" lengthAdjust="spacingAndGlyphs">ab</text><text x="338.85" y="101.3" textLength="12.52" lengthAdjust="spacingAndGlyphs">ab</text><text x="356.65" y="95.4" textLength="12.52" lengthAdjust="spacingAndGlyphs">ab</text><text x="374.95" y="103.6" textLength="12.52" lengthAdjust="spacingAndGlyphs">ab</text><text x="390.44" y="82.8" textLength="5.67" lengthAdjust="spacingAndGlyphs">a</text><text x="428.75" y="107.4" textLength="12.52" lengthAdjust="spacingAndGlyphs">ab</text><text x="445.35" y="115.3" textLength="12.52" lengthAdjust="spacingAndGlyphs">ab</text><text x="460.65" y="113.3" textLength="12.52" lengthAdjust="spacingAndGlyphs">ab</text><text x="476.75" y="109.6" textLength="12.52" lengthAdjust="spacingAndGlyphs">ab</text><text x="495.34" y="103.8" textLength="5.67" lengthAdjust="spacingAndGlyphs">a</text><text x="510.94" y="91.1" textLength="5.67" lengthAdjust="spacingAndGlyphs">a</text><text x="550.35" y="128.5" textLength="12.52" lengthAdjust="spacingAndGlyphs">ab</text><text x="565.34" y="145.5" textLength="7.09" lengthAdjust="spacingAndGlyphs">b</text><text x="582.74" y="139.1" textLength="7.09" lengthAdjust="spacingAndGlyphs">b</text><text x="596.75" y="128.3" textLength="12.52" lengthAdjust="spacingAndGlyphs">ab</text><text x="615.44" y="113.6" textLength="5.67" lengthAdjust="spacingAndGlyphs">a</text><text x="631.54" y="92.4" textLength="5.67" lengthAdjust="spacingAndGlyphs">a</text><text x="702.04" y="165.9" textLength="7.09" lengthAdjust="spacingAndGlyphs">b</text><text x="718.04" y="171.7" textLength="7.09" lengthAdjust="spacingAndGlyphs">b</text><text x="735.94" y="104.1" textLength="5.67" lengthAdjust="spacingAndGlyphs">a</text><text x="748.94" y="78.7" textLength="5.67" lengthAdjust="spacingAndGlyphs">a</text></g>
<g font-size="10.3" fill="#4d4d4d" stroke="#4d4d4d" stroke-width="0.2"><text x="32.30" y="47.3" textLength="13.90" lengthAdjust="spacingAndGlyphs">5.6</text><text x="32.30" y="132.3" textLength="13.90" lengthAdjust="spacingAndGlyphs">5.5</text><text x="32.30" y="217.5" textLength="13.90" lengthAdjust="spacingAndGlyphs">5.4</text><text x="32.30" y="302.0" textLength="13.90" lengthAdjust="spacingAndGlyphs">5.3</text></g>
<g font-size="10.2" fill="#4d4d4d" stroke="#4d4d4d" stroke-width="0.12"><text x="109.00" y="315.8" textLength="12.78" lengthAdjust="spacingAndGlyphs">D0</text><text x="228.79" y="315.8" textLength="12.89" lengthAdjust="spacingAndGlyphs">D1</text><text x="348.60" y="315.8" textLength="12.78" lengthAdjust="spacingAndGlyphs">D3</text><text x="468.40" y="315.8" textLength="12.78" lengthAdjust="spacingAndGlyphs">D6</text><text x="588.20" y="315.8" textLength="12.78" lengthAdjust="spacingAndGlyphs">D9</text><text x="705.80" y="315.8" textLength="17.23" lengthAdjust="spacingAndGlyphs">D13</text></g>
<g font-size="10.2" fill="#4d4d4d" stroke="#4d4d4d" stroke-width="0.2"><text x="384.23" y="333.0" textLength="61.01" lengthAdjust="spacingAndGlyphs">Storage days</text></g>
<g font-size="10.2" fill="#4d4d4d" stroke="#4d4d4d" stroke-width="0.2" transform="translate(26.5 171) rotate(-90)"><text x="-22.86" y="0" textLength="45.49" lengthAdjust="spacingAndGlyphs">pH values</text></g>
<g font-size="9.3" fill="#4d4d4d"><rect x="296.3" y="357.6" width="6.8" height="6.6" fill="url(#pCF)"/><text x="304.25" y="363.9" textLength="11.99" lengthAdjust="spacingAndGlyphs">CF</text><rect x="322.8" y="357.6" width="6.8" height="6.6" fill="url(#pCFAF)"/><text x="332.19" y="363.9" textLength="21.01" lengthAdjust="spacingAndGlyphs">CFAF</text><rect x="362.0" y="357.6" width="6.8" height="6.6" fill="#969696"/><text x="369.70" y="363.9" textLength="5.82" lengthAdjust="spacingAndGlyphs">V</text><rect x="383.9" y="357.6" width="6.8" height="6.6" fill="url(#pVAF)"/><text x="393.30" y="363.9" textLength="16.31" lengthAdjust="spacingAndGlyphs">VAF</text><rect x="418.0" y="357.6" width="6.8" height="6.6" fill="url(#pMAP)"/><text x="426.05" y="363.9" textLength="20.45" lengthAdjust="spacingAndGlyphs">MAP</text><rect x="454.2" y="357.6" width="6.8" height="6.6" fill="url(#pMAPAF)"/><text x="463.36" y="363.9" textLength="31.17" lengthAdjust="spacingAndGlyphs">MAPAF</text></g>
</svg>
</body></html>
